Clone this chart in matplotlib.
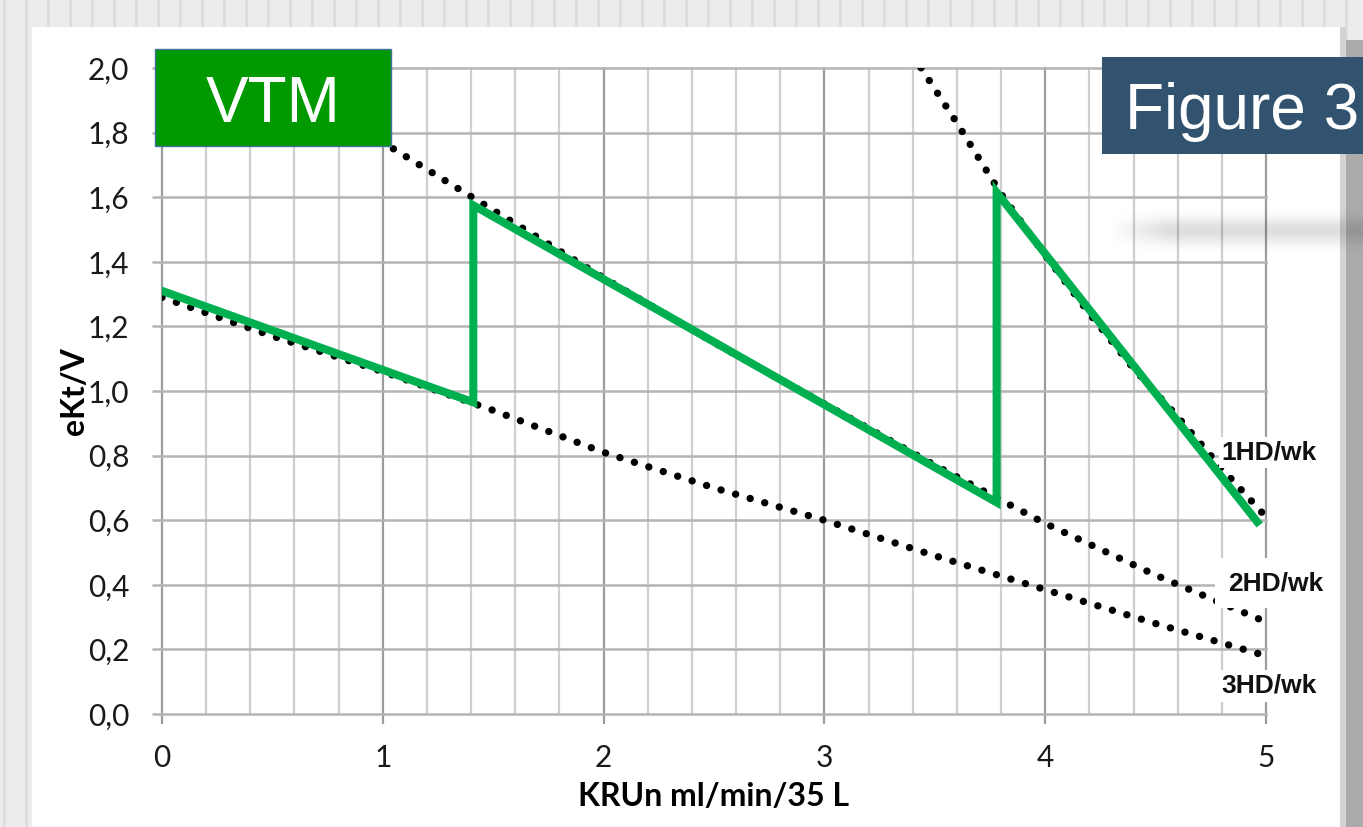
import numpy as np
import matplotlib
matplotlib.use("Agg")
import matplotlib.pyplot as plt
from matplotlib.patches import Rectangle
from matplotlib.lines import Line2D
from matplotlib.ticker import MultipleLocator, FuncFormatter

# ---------------- data ----------------
x_3hd = [0.0, 0.5, 1.0, 1.5, 2.0, 2.5, 3.0, 3.5, 4.0, 4.5, 5.0]
y_3hd = [1.29, 1.17, 1.06, 0.94, 0.81, 0.70, 0.60, 0.49, 0.385, 0.28, 0.18]

x_2hd = [0.0, 0.5, 1.0, 1.5, 2.0, 2.5, 3.0, 3.5, 4.0, 4.5, 5.0]
y_2hd = [2.22, 2.0, 1.77, 1.56, 1.35, 1.15, 0.96, 0.77, 0.59, 0.43, 0.285]

x_1hd = [3.4, 3.6, 3.8, 4.0, 4.2, 4.4, 4.6, 4.8, 5.0]
y_1hd = [2.04, 1.83, 1.61, 1.42, 1.24, 1.07, 0.92, 0.76, 0.61]

x_vtm = [0.0, 1.41, 1.41, 3.78, 3.78, 4.96]
y_vtm = [1.31, 0.965, 1.575, 0.655, 1.615, 0.595]

curve_labels = ["1HD/wk", "2HD/wk", "3HD/wk"]
label_pos = [(4.80, 0.81), (4.83, 0.405), (4.80, 0.087)]

y_ticks = [0.0, 0.2, 0.4, 0.6, 0.8, 1.0, 1.2, 1.4, 1.6, 1.8, 2.0]
x_ticks = [0, 1, 2, 3, 4, 5]

# ---------------- figure / slide background ----------------
W, H = 1363, 827
fig = plt.figure(figsize=(W / 100, H / 100), dpi=100)
fig.patch.set_facecolor('#ececec')

for xs in range(4, W, 22):
    fig.add_artist(Line2D([xs / W, xs / W], [0, 1], color='#dcdcdc', lw=1.8,
                          transform=fig.transFigure, zorder=-3))
# white panel
fig.add_artist(Rectangle((32 / W, 0), (1340 - 32) / W, 1 - 27 / H, transform=fig.transFigure,
                         fc='white', ec='none', zorder=-2))
# grey bar at the right
fig.add_artist(Rectangle((1340 / W, 0), 6 / W, 1 - 27 / H, transform=fig.transFigure,
                         fc='#d3d3d3', ec='none', zorder=-2))
fig.add_artist(Rectangle((1346 / W, 0), 17 / W, 1 - 40 / H, transform=fig.transFigure,
                         fc='#ababab', ec='none', zorder=-2))

# ---------------- axes ----------------
ax = fig.add_axes([162 / W, 1 - 714 / H, (1266 - 162) / W, (714 - 68) / H])
ax.set_facecolor('white')
ax.set_xlim(0, 5)
ax.set_ylim(0, 2.0)

ax.xaxis.set_major_locator(MultipleLocator(1))
ax.xaxis.set_minor_locator(MultipleLocator(0.2))
ax.set_yticks(y_ticks)
ax.set_xticks(x_ticks)
ax.yaxis.set_major_formatter(FuncFormatter(lambda v, p: f"{v:.1f}".replace('.', ',')))

ax.grid(which='minor', axis='x', color='#cfcfcf', lw=1.6)
ax.grid(which='major', axis='x', color='#9c9c9c', lw=1.6)
ax.grid(which='major', axis='y', color='#b4b4b4', lw=1.8)
for t in ax.xaxis.get_major_ticks() + ax.xaxis.get_minor_ticks() + ax.yaxis.get_major_ticks():
    t.gridline.set_clip_on(False)
ax.set_axisbelow(True)

for s in ax.spines.values():
    s.set_visible(False)

ax.tick_params(axis='x', which='major', length=7.5, width=1.6, color='#9c9c9c',
               direction='out', pad=14, labelsize=21.5)
ax.tick_params(axis='x', which='minor', length=0)
ax.tick_params(axis='y', length=7.5, width=1.8, color='#b4b4b4', direction='out',
               pad=16, labelsize=21.5)
for lab in ax.get_xticklabels() + ax.get_yticklabels():
    lab.set_fontfamily('Lato')
    lab.set_color('#1a1a1a')

ax.set_xlabel("KRUn ml/min/35 L", fontfamily='Lato', fontweight='bold', fontsize=23)
ax.set_ylabel("eKt/V", fontfamily='Lato', fontweight='bold', fontsize=23)
ax.xaxis.set_label_coords(0.5, -0.105)
ax.yaxis.set_label_coords(-0.066, 0.5)

# dotted curves
dot_style = dict(color='black', lw=5.3, linestyle=(0, (0.01, 2.05)),
                 dash_capstyle='round', zorder=3)
ax.plot(x_3hd, y_3hd, **dot_style)
ax.plot(x_2hd, y_2hd, **dot_style)
ax.plot(x_1hd, y_1hd, **dot_style)

# VTM path
ax.plot(x_vtm, y_vtm, color='#00b050', lw=5.8, solid_joinstyle='miter', zorder=4)

# curve labels
pads = [0.12, 0.5, 0.15]
for txt, (lx, ly), pd in zip(curve_labels, label_pos, pads):
    ax.text(lx, ly, txt, fontfamily='Liberation Sans', fontweight='bold', fontsize=19,
            ha='left', va='center', color='#111111', clip_on=False, zorder=5,
            bbox=dict(boxstyle=f'square,pad={pd}', fc='white', ec='none'))

# ---------------- boxes ----------------
fig.add_artist(Rectangle((155 / W, 1 - 146 / H), 236 / W, 97 / H, transform=fig.transFigure,
                         fc='#009900', ec='#41719c', lw=1.0, zorder=6))
fig.text(273 / W, 1 - 122 / H, "VTM", color='white', fontsize=46,
         fontfamily='Liberation Sans', ha='center', va='baseline', zorder=7)

fig.add_artist(Rectangle((1102 / W, 1 - 154 / H), (W - 1102) / W, 97 / H,
                         transform=fig.transFigure, fc='#31536f', ec='none', zorder=6))
fig.text(1125 / W, 1 - 129 / H, "Figure 3", color='white', fontsize=46,
         fontfamily='Liberation Sans', ha='left', va='baseline', zorder=7)

# soft shadow streak at the right
yy, xx = np.mgrid[0:80, 0:260]
alpha = 0.13 * np.exp(-((yy - 40) / 13.0) ** 2) * np.clip((xx - 5) / 60.0, 0, 1)
shade = np.zeros((80, 260, 4))
shade[..., 3] = alpha
fig.figimage(shade, xo=1103, yo=H - 270, origin='upper', zorder=2)

fig.savefig("out.png", dpi=100, facecolor=fig.get_facecolor())
